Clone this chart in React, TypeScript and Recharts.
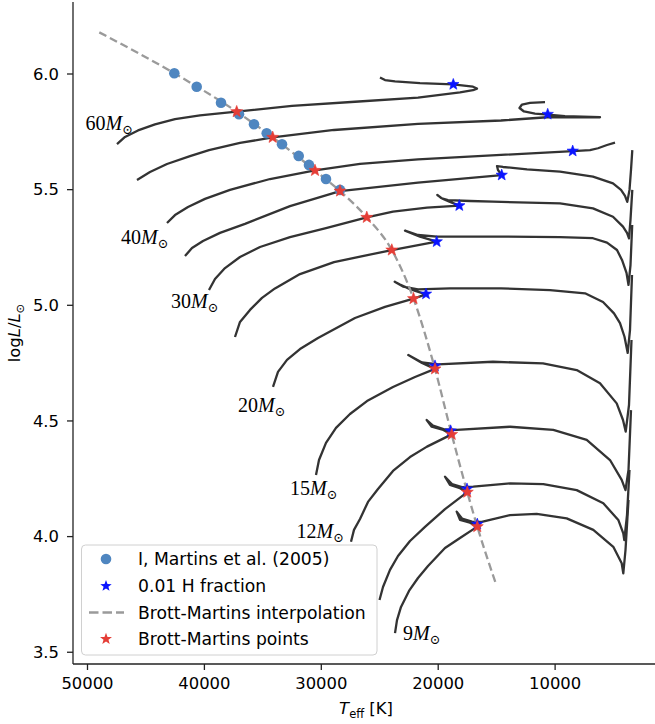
import React from 'react';
import { ComposedChart, Line, Scatter, XAxis, YAxis } from 'recharts';

type P = [number, number];

// Evolutionary tracks: [Teff (K), log L/Lsun]
const trackA: P[] = [[47477,5.697],[46792,5.728],[45680,5.756],[44226,5.782],[42515,5.805],[40377,5.821],[37237,5.837],[32507,5.862],[27118,5.880],[21729,5.898],[18136,5.921],[17024,5.930],[16682,5.937],[17024,5.945],[18735,5.955],[21558,5.961],[23696,5.968],[24552,5.974],[24980,5.985]];
const trackB: P[] = [[45766,5.542],[44654,5.576],[43200,5.611],[41232,5.645],[39607,5.671],[36955,5.702],[34158,5.726],[28914,5.758],[21729,5.784],[14629,5.799],[10694,5.813],[6161,5.813],[9155,5.818],[10609,5.824],[11721,5.829],[12662,5.838],[13047,5.853],[12833,5.868],[12149,5.875],[10865,5.878]];
const trackC: P[] = [[43200,5.356],[42515,5.390],[41403,5.425],[39949,5.460],[37811,5.499],[34389,5.546],[30540,5.583],[26690,5.611],[21729,5.631],[14629,5.650],[8470,5.667],[7016,5.671],[6332,5.679],[5562,5.693],[4878,5.703]];
const trackD: P[] = [[41660,5.213],[41061,5.248],[40120,5.278],[38666,5.313],[36527,5.352],[32678,5.429],[28401,5.494],[21729,5.530],[14569,5.563],[14886,5.585],[14971,5.602],[14458,5.598],[12405,5.588],[9582,5.578],[6760,5.556],[5049,5.527],[4364,5.499],[4022,5.473],[3826,5.447],[3637,5.499],[3509,5.585],[3398,5.671]];
const trackE: P[] = [[39607,5.066],[39094,5.114],[38238,5.161],[36955,5.209],[35244,5.252],[32678,5.295],[29599,5.334],[26109,5.380],[23868,5.405],[20959,5.422],[18196,5.431],[18992,5.447],[19676,5.462],[20078,5.477],[19762,5.464],[19163,5.455],[17281,5.451],[15314,5.448],[9582,5.441],[6760,5.419],[5049,5.383],[4193,5.340],[3851,5.313],[3680,5.289],[3552,5.369],[3398,5.499]];
const trackF: P[] = [[37383,4.863],[36955,4.928],[36100,4.980],[35073,5.032],[33961,5.073],[31823,5.135],[28914,5.187],[23970,5.239],[20129,5.275],[21558,5.297],[22841,5.323],[21729,5.304],[20104,5.297],[14715,5.297],[9582,5.295],[6760,5.290],[5562,5.271],[4707,5.239],[4279,5.196],[3894,5.140],[3723,5.088],[3552,5.174],[3406,5.347]];
const trackG: P[] = [[34132,4.647],[33705,4.712],[32935,4.764],[31823,4.811],[30283,4.859],[27118,4.945],[24552,4.993],[22114,5.029],[21045,5.047],[22413,5.070],[23269,5.090],[23722,5.102],[23012,5.081],[21729,5.069],[18992,5.073],[14629,5.073],[10438,5.066],[7444,5.052],[5904,5.014],[4963,4.965],[4450,4.923],[4065,4.864],[3791,4.794],[3595,4.893],[3423,5.131]];
const trackH: P[] = [[30454,4.266],[30197,4.331],[29599,4.405],[28743,4.470],[27546,4.530],[26092,4.586],[23868,4.647],[21986,4.690],[20275,4.725],[21387,4.751],[22559,4.785],[21387,4.753],[20018,4.745],[15314,4.756],[11037,4.749],[8153,4.720],[6161,4.663],[4732,4.576],[4193,4.504],[3962,4.454],[3680,4.569],[3466,4.850]];
const trackI: P[] = [[27460,3.978],[27204,4.029],[26690,4.076],[26006,4.150],[25151,4.206],[23868,4.284],[22413,4.344],[20959,4.389],[18846,4.442],[19565,4.461],[20557,4.475],[20985,4.504],[20446,4.480],[19419,4.463],[18420,4.461],[13859,4.475],[10155,4.461],[7298,4.418],[5305,4.331],[4305,4.245],[3979,4.201],[3723,4.288],[3509,4.547]];
const trackJ: P[] = [[25022,3.726],[24723,3.782],[24124,3.856],[23440,3.916],[22413,3.981],[21130,4.042],[19419,4.119],[17512,4.192],[18136,4.209],[18992,4.223],[19419,4.259],[18821,4.227],[17965,4.214],[16999,4.216],[13859,4.230],[11011,4.227],[8153,4.201],[5878,4.144],[4595,4.072],[4168,4.014],[4082,3.985],[3851,4.093],[3637,4.288]];
const trackK: P[] = [[23696,3.583],[23525,3.639],[23183,3.696],[22499,3.765],[21729,3.821],[20874,3.873],[19419,3.951],[18136,3.994],[16657,4.043],[17281,4.060],[18136,4.072],[18420,4.108],[17965,4.078],[17110,4.065],[16280,4.064],[13859,4.093],[11575,4.098],[9009,4.079],[6734,4.029],[5023,3.956],[4305,3.885],[4168,3.841],[3979,3.942],[3723,4.158]];

const martinsPts: P[] = [[42575,6.003],[40659,5.945],[38580,5.876],[37041,5.826],[35758,5.783],[34671,5.744],[33362,5.696],[31934,5.646],[31053,5.607],[29599,5.546],[28401,5.499]];
const hFractionPts: P[] = [[18709,5.955],[10634,5.826],[8496,5.667],[14569,5.563],[18196,5.431],[20129,5.275],[21045,5.049],[20275,4.738],[18932,4.457],[17538,4.206],[16657,4.054]];
const bmInterp: P[] = [[48991,6.180],[42575,6.003],[37237,5.837],[34158,5.726],[30540,5.583],[28401,5.494],[26109,5.380],[23970,5.239],[22114,5.029],[20275,4.725],[18846,4.442],[17512,4.192],[16657,4.043],[15057,3.795]];
const bmPoints: P[] = [[37237,5.837],[34158,5.726],[30540,5.583],[28401,5.494],[26109,5.380],[23970,5.239],[22114,5.029],[20275,4.725],[18846,4.442],[17512,4.192],[16657,4.043]];

const massLabels = ['60', '40', '30', '20', '15', '12', '9'];
const massLabelT = [50163, 47134, 42857, 37126, 32678, 32114, 23012];
const massLabelL = [5.760, 5.267, 4.990, 4.537, 4.178, 3.992, 3.551];

const xTicks = [50000, 40000, 30000, 20000, 10000];
const yTicks = [3.5, 4.0, 4.5, 5.0, 5.5, 6.0];
const xDomain: [number, number] = [1456, 51240];
const yDomain: [number, number] = [3.4492, 6.3113];

const tracks = [trackA, trackB, trackC, trackD, trackE, trackF, trackG, trackH, trackI, trackJ, trackK];
const toPts = (a: P[]) => a.map(([T, L]) => ({ T, L }));
const labelData = massLabels.map((m, i) => ({ T: massLabelT[i], L: massLabelL[i], m }));

const TRACK = '#333333';
const CIRCLE = '#4f86c0';
const BLUE = '#0a14ff';
const RED = '#e53d36';
const DASH = '#9a9a9a';

const starPath = (cx: number, cy: number, R: number, r: number) => {
  let d = '';
  for (let i = 0; i < 10; i++) {
    const rad = i % 2 === 0 ? R : r;
    const ang = -Math.PI / 2 + (i * Math.PI) / 5;
    d += (i === 0 ? 'M' : 'L') + (cx + rad * Math.cos(ang)).toFixed(2) + ',' + (cy + rad * Math.sin(ang)).toFixed(2);
  }
  return d + 'Z';
};

const StarShape = (color: string, R: number) => (props: any) => {
  const { cx, cy } = props;
  if (cx == null || cy == null) return <g />;
  return <path d={starPath(cx, cy, R, R * 0.42)} fill={color} stroke={color} strokeWidth={0.6} />;
};

const CircleShape = (props: any) => {
  const { cx, cy } = props;
  if (cx == null || cy == null) return <g />;
  return <circle cx={cx} cy={cy} r={5.3} fill={CIRCLE} />;
};

const LabelShape = (props: any) => {
  const { cx, cy } = props;
  const m = props.payload?.m ?? props.m;
  if (cx == null || cy == null) return <g />;
  return (
    <text x={cx} y={cy} fontFamily="'Liberation Serif', 'DejaVu Serif', serif" fontSize={20} fill="#000">
      {m}
      <tspan fontStyle="italic">M</tspan>
      <tspan fontFamily="'DejaVu Serif', serif" fontSize={13} dy={4}>⊙</tspan>
    </text>
  );
};

const tickStyle = { fontSize: 16.4, fill: '#000', fontFamily: "'DejaVu Sans', sans-serif" };

export default function App() {
  return (
    <div style={{ position: 'absolute', left: 0, top: 0, width: 655, height: 724, background: '#fff' }}>
      <ComposedChart width={655} height={724} margin={{ top: 2, right: 0, bottom: 0, left: 0 }}>
        <XAxis
          dataKey="T"
          type="number"
          domain={xDomain}
          allowDataOverflow
          reversed
          ticks={xTicks}
          tick={tickStyle}
          tickSize={6}
          tickMargin={7}
          height={60}
          stroke="#222"
          strokeWidth={1.3}
          interval={0}
        />
        <XAxis
          xAxisId="top"
          orientation="top"
          dataKey="T"
          type="number"
          domain={xDomain}
          allowDataOverflow
          reversed
          tick={false}
          tickLine={false}
          height={0}
          stroke="#222"
          strokeWidth={1.3}
        />
        <YAxis
          dataKey="L"
          type="number"
          domain={yDomain}
          allowDataOverflow
          ticks={yTicks}
          tickFormatter={(v: number) => v.toFixed(1)}
          tick={tickStyle}
          tickSize={6}
          tickMargin={8}
          width={73}
          stroke="#222"
          strokeWidth={1.3}
          interval={0}
        />
        {tracks.map((t, i) => (
          <Line
            key={'track' + i}
            data={toPts(t)}
            dataKey="L"
            type="linear"
            stroke={TRACK}
            strokeWidth={2.3}
            dot={false}
            activeDot={false}
            isAnimationActive={false}
            strokeLinejoin="round"
          />
        ))}
        <Line
          data={toPts(bmInterp)}
          dataKey="L"
          type="monotone"
          stroke={DASH}
          strokeWidth={2.3}
          strokeDasharray="8 4"
          dot={false}
          activeDot={false}
          isAnimationActive={false}
        />
        <Scatter data={toPts(martinsPts)} dataKey="L" shape={CircleShape} isAnimationActive={false} />
        <Scatter data={toPts(hFractionPts)} dataKey="L" shape={StarShape(BLUE, 6)} isAnimationActive={false} />
        <Scatter data={toPts(bmPoints)} dataKey="L" shape={StarShape(RED, 6.3)} isAnimationActive={false} />
        <Scatter data={labelData} dataKey="L" shape={LabelShape} isAnimationActive={false} />
      </ComposedChart>
      <svg width={655} height={724} style={{ position: 'absolute', left: 0, top: 0, pointerEvents: 'none' }}>
        <text
          transform="translate(20,333) rotate(-90)"
          textAnchor="middle"
          fontFamily="'DejaVu Sans', sans-serif"
          fontSize={16.4}
          fill="#000"
        >
          log<tspan fontStyle="italic">L</tspan>/<tspan fontStyle="italic">L</tspan>
          <tspan fontSize={11.5} dy={3.5}>⊙</tspan>
        </text>
        <text x={366} y={714} textAnchor="middle" fontFamily="'DejaVu Sans', sans-serif" fontSize={16.4} fill="#000">
          <tspan fontStyle="italic">T</tspan>
          <tspan fontSize={11.5} dy={3.5}>eff</tspan>
          <tspan dy={-3.5}> [K]</tspan>
        </text>
        <g>
          <rect x={81.5} y={545} width={295.5} height={110} rx={4} fill="#fff" fillOpacity={0.8} stroke="#d0d0d0" strokeWidth={1} />
          <circle cx={106} cy={559} r={5.3} fill={CIRCLE} />
          <path d={starPath(106, 586, 6, 2.5)} fill={BLUE} />
          <line x1={89} y1={612.5} x2={124} y2={612.5} stroke={DASH} strokeWidth={2.3} strokeDasharray="9.5 4" />
          <path d={starPath(106, 639, 6.3, 2.6)} fill={RED} />
          <g fontFamily="'DejaVu Sans', sans-serif" fontSize={17.2} fill="#000">
            <text x={138} y={565}>I, Martins et al. (2005)</text>
            <text x={138} y={592}>0.01 H fraction</text>
            <text x={138} y={618.5}>Brott-Martins interpolation</text>
            <text x={138} y={645}>Brott-Martins points</text>
          </g>
        </g>
      </svg>
    </div>
  );
}
